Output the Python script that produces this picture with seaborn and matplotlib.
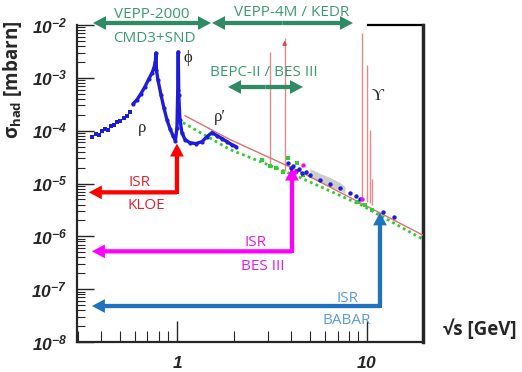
import numpy as np
import pandas as pd
import matplotlib
matplotlib.use("Agg")
import matplotlib.pyplot as plt
from matplotlib.ticker import FuncFormatter, LogLocator, NullFormatter
import seaborn as sns

# sqrt(s) in GeV, sigma in mbarn
low_E = [0.357, 0.375, 0.389, 0.403, 0.418, 0.433, 0.449, 0.466, 0.483, 0.501, 0.526, 0.545, 0.566]
low_sigma = [7.7e-5, 8.8e-5, 8.4e-5, 1.0e-4, 1.09e-4, 1.04e-4, 1.24e-4, 1.30e-4, 1.48e-4, 1.55e-4,
             1.76e-4, 1.92e-4, 2.28e-4]

curve_E = [0.587, 0.616, 0.646, 0.679, 0.712, 0.739, 0.757, 0.770, 0.775, 0.780, 0.794, 0.824,
           0.854, 0.886, 0.919, 0.953, 0.982, 1.000, 1.010, 1.016, 1.022, 1.037, 1.062, 1.102,
           1.171, 1.259, 1.354, 1.439, 1.528, 1.624, 1.725, 1.833, 1.948, 2.045]
curve_sigma = [3.2e-4, 3.85e-4, 5.0e-4, 6.8e-4, 9.6e-4, 1.24e-3, 1.55e-3, 2.0e-3, 2.96e-3, 1.42e-3,
               9.2e-4, 4.8e-4, 2.7e-4, 1.61e-4, 1.09e-4, 8.05e-5, 6.5e-5, 1.14e-4, 5.9e-4, 3.1e-3,
               4.8e-4, 1.61e-4, 9.2e-5, 6.8e-5, 5.9e-5, 5.7e-5, 6.2e-5, 7.7e-5, 9.2e-5, 8.05e-5,
               7.1e-5, 6.2e-5, 5.4e-5, 5.0e-5]

high_E = [3.84, 3.98, 4.08, 4.23, 4.39, 4.55, 4.78, 5.01, 5.66, 6.39, 7.21, 8.14, 8.75, 9.19, 12.1, 13.9]
high_sigma = [2.49e-5, 2.0e-5, 2.19e-5, 1.76e-5, 1.92e-5, 1.61e-5, 1.68e-5, 1.42e-5, 1.19e-5, 1.0e-5,
              8.05e-6, 6.5e-6, 5.7e-6, 5.2e-6, 2.84e-6, 2.28e-6]

other_E = [2.80, 3.09, 3.32, 3.61, 3.84, 4.03, 4.28, 4.61, 8.97, 9.76, 10.6]
other_sigma = [2.84e-5, 2.19e-5, 2.0e-5, 1.68e-5, 3.1e-5, 1.55e-5, 2.49e-5, 1.42e-5, 4.4e-6, 3.85e-6, 3.2e-6]

bes_E = [4.18, 4.61, 9.41]
bes_sigma = [1.68e-5, 2.28e-5, 5.0e-6]

qcd_E = [1.075, 1.90, 4.44, 9.41, 19.7]
qcd_sigma = [1.42e-4, 4.4e-5, 1.30e-5, 3.85e-6, 8.8e-7]

fit_E = [1.102, 1.90, 4.44, 19.7]
fit_sigma = [1.92e-4, 6.8e-5, 1.68e-5, 1.05e-6]

band_E = [5.01, 5.66, 6.39, 7.21, 7.66]
band_lo = [1.36e-5, 1.09e-5, 8.8e-6, 7.4e-6, 6.5e-6]
band_hi = [1.92e-5, 1.55e-5, 1.30e-5, 1.04e-5, 8.8e-6]

# narrow resonances: J/psi, psi(2S), Upsilon(1S..4S)
res_E = [3.097, 3.686, 9.46, 10.02, 10.36, 10.58]
res_top = [3.1e-3, 5.7e-3, 7.1e-3, 1.76e-3, 1.04e-4, 1.2e-5]
res_bottom = [2.3e-5, 1.7e-5, 5.0e-6, 4.5e-6, 4.2e-6, 4.0e-6]

# ISR experiments: label, vertical-arrow energy, arrow tip, horizontal level, left tip
isr_names = ["KLOE", "BES III", "BABAR"]
isr_E = [1.0, 4.03, 11.7]
isr_tip = [5.7e-5, 2.0e-5, 2.84e-6]
isr_level = [6.8e-6, 5.2e-7, 4.8e-8]
isr_left = [0.344, 0.357, 0.357]

W, H = 522, 372
BLUE = "#1c1cd9"
GREEN = "#2e8b64"
GREEN_TXT = "#3c9a72"


def fxy(x, y):
    # pixel position (from top-left) -> figure fraction
    return (x / W, 1 - y / H)


def fat_arrow(ax, start, end, color, coords="data"):
    ax.annotate("", xy=end, xytext=start, xycoords=coords, textcoords=coords,
                annotation_clip=False,
                arrowprops=dict(arrowstyle="simple,head_length=0.85,head_width=0.9,tail_width=0.28",
                                mutation_scale=11, color=color, lw=0, shrinkA=0, shrinkB=0))


def main():
    sns.set_style("ticks")
    plt.rcParams["font.family"] = ["Open Sans", "DejaVu Sans"]
    plt.rcParams["mathtext.fontset"] = "custom"
    for key in ("rm", "it", "bf"):
        plt.rcParams["mathtext." + key] = "Liberation Sans:italic:bold"
    plt.rcParams["mathtext.sf"] = "Open Sans:bold"

    fig = plt.figure(figsize=(W / 100, H / 100), dpi=100)
    ax = fig.add_axes([77 / W, 30 / H, 346 / W, 317 / H])
    ax.set_xscale("log")
    ax.set_yscale("log")
    ax.set_xlim(0.298, 19.7)
    ax.set_ylim(1e-8, 1e-2)

    # background pieces
    ax.fill_between(band_E, band_lo, band_hi, color="#cdcdcd", lw=0, zorder=1)
    ax.vlines(res_E, res_bottom, res_top, colors="#e58a8a", lw=1, zorder=1)
    ax.annotate("", xy=(res_E[1], res_top[1]), xytext=(res_E[1], res_top[1] * 0.7),
                arrowprops=dict(arrowstyle="-|>", color="#d84040", lw=0.8, mutation_scale=6))

    qcd = pd.DataFrame({"E": qcd_E, "sigma": qcd_sigma})
    fit = pd.DataFrame({"E": fit_E, "sigma": fit_sigma})
    sns.lineplot(data=qcd, x="E", y="sigma", ax=ax, color="#33cc33", lw=2,
                 linestyle=(0, (1, 1.2)), estimator=None, sort=False, zorder=2)
    sns.lineplot(data=fit, x="E", y="sigma", ax=ax, color="#e07070", lw=1,
                 estimator=None, sort=False, zorder=3)

    sns.scatterplot(x=other_E, y=other_sigma, ax=ax, color="#33cc33", marker="s", s=7,
                    linewidth=0, zorder=3)
    sns.scatterplot(x=high_E, y=high_sigma, ax=ax, color=BLUE, s=10, linewidth=0, zorder=4)
    sns.scatterplot(x=bes_E, y=bes_sigma, ax=ax, color="#ff00ff", s=10, linewidth=0, zorder=4)
    sns.scatterplot(x=low_E, y=low_sigma, ax=ax, color=BLUE, marker="s", s=9, linewidth=0, zorder=4)
    curve = pd.DataFrame({"E": curve_E, "sigma": curve_sigma})
    sns.lineplot(data=curve, x="E", y="sigma", ax=ax, color=BLUE, lw=2.4, marker="o",
                 markersize=3, markeredgewidth=0, estimator=None, sort=False, zorder=4)

    # axes styling
    ax.xaxis.set_major_locator(LogLocator(base=10, numticks=10))
    ax.xaxis.set_minor_locator(LogLocator(base=10, subs=np.arange(2, 10), numticks=40))
    ax.yaxis.set_major_locator(LogLocator(base=10, numticks=20))
    ax.yaxis.set_minor_locator(LogLocator(base=10, subs=np.arange(2, 10), numticks=100))
    ax.xaxis.set_major_formatter(FuncFormatter(lambda v, _: r"$%g$" % v))
    ax.yaxis.set_major_formatter(FuncFormatter(lambda v, _: r"$10^{%d}$" % round(np.log10(v))))
    ax.xaxis.set_minor_formatter(NullFormatter())
    ax.yaxis.set_minor_formatter(NullFormatter())
    ax.tick_params(which="both", direction="in", top=False, right=False, labelsize=12.5)
    ax.tick_params(axis="y", which="major", length=12, width=1, pad=7)
    ax.tick_params(axis="y", which="minor", length=6, width=0.8)
    ax.tick_params(axis="x", which="major", length=15, width=1, pad=10)
    ax.tick_params(axis="x", which="minor", length=8, width=0.8)
    ax.spines["top"].set_visible(False)
    ax.spines["left"].set_linewidth(1.6)
    ax.spines["bottom"].set_linewidth(1.6)
    ax.spines["right"].set_linewidth(2.5)
    ax.plot([(368 - 77) / 346, 1.0], [1, 1], transform=ax.transAxes, color="k", lw=1.6,
            clip_on=False, solid_capstyle="projecting")
    ax.set_xlabel("")
    ax.set_ylabel(r"$\mathsf{\sigma_{had}}$ [mbarn]", fontsize=13.5, fontweight="bold")
    ax.yaxis.set_label_coords((24 - 77) / 346, (342 - 80) / 317)
    fig.text(*fxy(480, 330), "\u221as [GeV]", ha="center", va="center", fontsize=13.5,
             fontweight="bold")

    # resonance names
    greek = dict(family=["Liberation Serif", "DejaVu Serif"], fontsize=12, ha="center", va="center")
    fig.text(*fxy(142, 128), "\u03c1", **greek)
    fig.text(*fxy(188, 58), "\u03d5", **greek)
    fig.text(*fxy(220, 117), "\u03c1\u2032", **greek)
    fig.text(*fxy(378, 96), "\u03d2", **greek)

    # ISR arrows
    isr_colors = ["#ff0000", "#ff00ff", "#1f72c0"]
    isr_text_colors = ["#e8202a", "#e619e6", "#5b9bd5"]
    isr_text_pos = [((140, 182), (146, 206)), ((256, 242), (263, 266)), ((347, 299), (347, 321))]
    for i, name in enumerate(isr_names):
        corner = (isr_E[i], isr_level[i])
        fat_arrow(ax, corner, (isr_left[i], isr_level[i]), isr_colors[i])
        fat_arrow(ax, corner, (isr_E[i], isr_tip[i]), isr_colors[i])
        ax.plot(*corner, marker="s", ms=3.1, color=isr_colors[i], mew=0, zorder=5)
        (x1, y1), (x2, y2) = isr_text_pos[i]
        fig.text(*fxy(x1, y1), "ISR", color=isr_text_colors[i], fontsize=11, ha="center", va="center")
        fig.text(*fxy(x2, y2), name, color=isr_text_colors[i], fontsize=11, ha="center", va="center")

    # accelerator ranges
    for x0, x1, y in [(93, 211, 23), (212, 353, 23), (228, 303, 87)]:
        mid = fxy((x0 + x1) / 2, y)
        fat_arrow(ax, mid, fxy(x0, y), GREEN, coords="figure fraction")
        fat_arrow(ax, mid, fxy(x1, y), GREEN, coords="figure fraction")
    for (x, y), s in [((152, 15), "VEPP-2000"), ((154, 38), "CMD3+SND"),
                      ((292, 12), "VEPP-4M / KEDR"), ((264, 72), "BEPC-II / BES III")]:
        fig.text(*fxy(x, y), s, color=GREEN_TXT, fontsize=11, ha="center", va="center")

    fig.savefig("out.png", dpi=100)


if __name__ == "__main__":
    main()
